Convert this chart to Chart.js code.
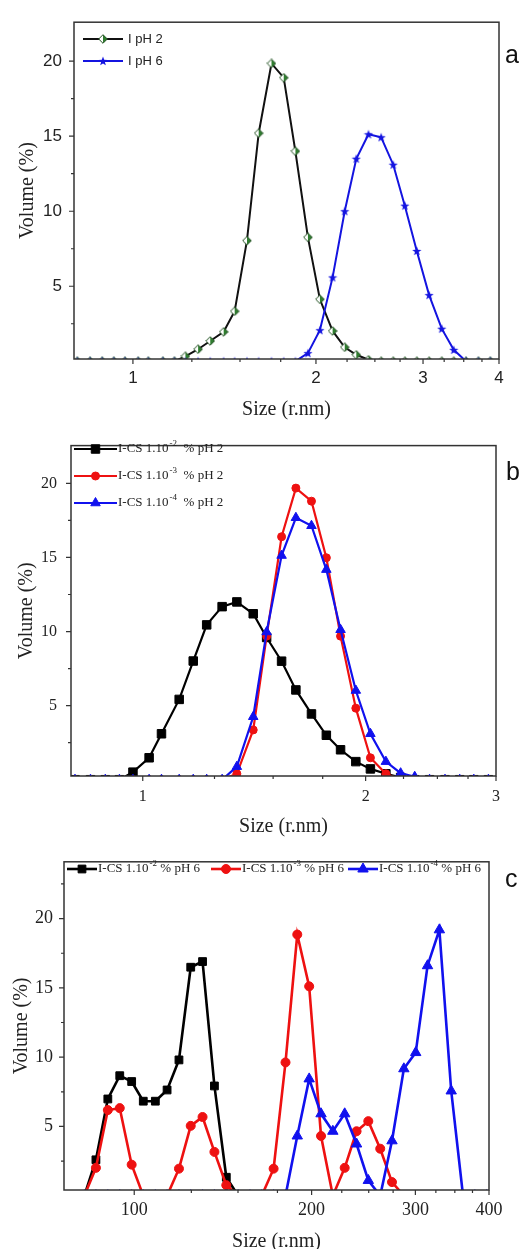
<!DOCTYPE html>
<html>
<head>
<meta charset="utf-8">
<title>Size distributions</title>
<script src="https://cdn.jsdelivr.net/npm/chart.js@4.4.1/dist/chart.umd.min.js"></script>
<style>
  body { margin: 0; background: #fff; }
  canvas { position: absolute; left: 0; }
</style>
</head>
<body>
<canvas id="chartA" width="524" height="422" style="top:0"></canvas>
<canvas id="chartB" width="524" height="418" style="top:422px"></canvas>
<canvas id="chartC" width="524" height="409" style="top:840px"></canvas>
<script>
var sizesAB = [0.81,0.85,0.89,0.93,0.97,1.02,1.06,1.12,1.17,1.22,1.28,1.34,1.41,1.47,1.54,1.61,1.69,1.77,
  1.85,1.94,2.03,2.13,2.23,2.33,2.44,2.56,2.68,2.80,2.93,3.07,3.22,3.37,3.53,3.70,3.87];
// panel a
var volA_pH2 = [0,0,0,0,0,0,0,0,0, 0.33,0.80,1.35,1.96,3.33,8.04,15.2,19.85,18.9,14.0,8.26,4.13,2.02,0.93,0.43,0.1,
  0,0,0,0,0,0,0,0,0,0];
var volA_pH6 = [0,0,0,0,0,0,0,0,0,0,0,0,0,0,0,0,0,0,0, 0.54,2.07,5.59,10.0,13.5,15.13,14.93,13.1,10.37,7.35,4.41,2.17,0.76,
  0,0,0];
// panel b
var volB_2 = [0,0,0,0, 0.51,1.48,3.10,5.42,8.01,10.45,11.68,12.0,11.2,9.6,8.0,6.06,4.44,3.0,2.02,1.22,0.73,0.40,0.15,
  0,0,0,0,0,0,0,0,0,0,0,0];
var volB_3 = [0,0,0,0,0,0,0,0,0,0,0, 0.40,3.36,9.69,16.4,19.68,18.8,14.98,9.69,4.83,1.48,0.40,
  0,0,0,0,0,0,0,0,0,0,0,0,0];
var volB_4 = [0,0,0,0,0,0,0,0,0,0,0, 0.88,4.25,9.97,15.13,17.68,17.14,14.18,10.12,6.02,3.10,1.22,0.44,0.2,
  0,0,0,0,0,0,0,0,0,0,0];
// panel c
var sizesC = [82.3,86.1,90.2,94.5,99.0,103.6,108.6,113.7,119.1,124.7,130.6,136.8,143.3,150.1,157.2,164.6,172.4,
  180.6,189.1,198.1,207.5,217.3,227.6,238.4,249.6,261.5,273.8,286.8,300.4,314.6,329.5,345.1,361.4,378.5,396.4];
var volC_2 = [0,2.59,6.98,8.66,8.24,6.82,6.82,7.63,9.80,16.49,16.90,7.92,1.33,
  0,0,0,0,0,0,0,0,0,0,0,0,0,0,0,0,0,0,0,0,0,0];
var volC_3 = [0,2.01,6.18,6.32,2.24,0,0,0,1.95,5.04,5.68,3.16,0.76,0,0,0,1.95,9.62,18.85,15.11,4.31,0,2.01,4.65,5.38,3.39,0.98,
  0,0,0,0,0,0,0,0];
var volC_4 = [0,0,0,0,0,0,0,0,0,0,0,0,0,0,0,0,0,0, 4.31,8.43,5.91,4.65,5.91,3.73,1.10,0,3.96,9.16,10.33,16.60,19.19,7.56,
  0,0,0];

// tick values
var xTicksA = [1,2,3,4];
var xMinorA = [1.25,1.5,1.75,2.25,2.5,2.75,3.25,3.5,3.75];
var xTicksB = [1,2,3];
var xMinorB = [1.25,1.5,1.75,2.25,2.5,2.75];
var xTicksC = [100,200,300,400];
var xMinorC = [125,150,175,225,250,275,325,350,375];
var yTicks = [5,10,15,20];
var yMinor = [2.5,7.5,12.5,17.5];
var yMinorC = [2.5,7.5,12.5,17.5,22.5];

var SANS = '"Liberation Sans", Arial, sans-serif';
var SERIF = '"Liberation Serif", "Times New Roman", serif';

function diamondMark() {
  var c = document.createElement('canvas');
  c.width = 10; c.height = 10;
  var g = c.getContext('2d');
  g.beginPath();
  g.moveTo(5, 0.7); g.lineTo(9.3, 5); g.lineTo(5, 9.3); g.lineTo(0.7, 5); g.closePath();
  g.fillStyle = '#fff'; g.fill();
  g.save(); g.clip(); g.fillStyle = '#2f7d2f'; g.fillRect(5, 0, 5, 10); g.restore();
  g.strokeStyle = '#1f4f1f'; g.lineWidth = 1; g.stroke();
  return c;
}

function starMark(color) {
  var c = document.createElement('canvas');
  c.width = 10; c.height = 10;
  var g = c.getContext('2d');
  g.beginPath();
  for (var i = 0; i < 10; i++) {
    var r = i % 2 ? 2 : 4.8;
    var a = -Math.PI / 2 + i * Math.PI / 5;
    g.lineTo(5 + r * Math.cos(a), 5.4 + r * Math.sin(a));
  }
  g.closePath();
  g.fillStyle = color; g.fill();
  return c;
}

// frame, tick marks, in-plot legend and panel letter
var framePlugin = {
  id: 'frame',
  afterDraw: function(chart, args, o) {
    var ctx = chart.ctx, a = chart.chartArea, x = chart.scales.x, y = chart.scales.y;
    ctx.save();
    ctx.strokeStyle = '#333';
    ctx.lineWidth = 1.5;
    ctx.strokeRect(a.left, a.top, a.right - a.left, a.bottom - a.top);
    ctx.lineWidth = 1.2;
    ctx.beginPath();
    o.xMajor.forEach(function(v) { var p = x.getPixelForValue(v); ctx.moveTo(p, a.bottom); ctx.lineTo(p, a.bottom + 5); });
    o.xMinor.forEach(function(v) { var p = x.getPixelForValue(v); ctx.moveTo(p, a.bottom); ctx.lineTo(p, a.bottom + 3); });
    o.yMajor.forEach(function(v) { var p = y.getPixelForValue(v); ctx.moveTo(a.left, p); ctx.lineTo(a.left - 5, p); });
    o.yMinor.forEach(function(v) { var p = y.getPixelForValue(v); ctx.moveTo(a.left, p); ctx.lineTo(a.left - 3, p); });
    ctx.stroke();

    // legend
    chart.data.datasets.forEach(function(ds, i) {
      var pos = o.legend.at[i], lx = pos[0], ly = pos[1], len = o.legend.len;
      ctx.strokeStyle = ds.borderColor;
      ctx.lineWidth = ds.borderWidth;
      ctx.beginPath(); ctx.moveTo(lx, ly); ctx.lineTo(lx + len, ly); ctx.stroke();
      ctx.fillStyle = ds.pointBackgroundColor;
      ctx.strokeStyle = ds.pointBorderColor;
      ctx.lineWidth = 1;
      Chart.helpers.drawPoint(ctx, {pointStyle: ds.pointStyle, rotation: 0, radius: ds.pointRadius, borderWidth: 1}, lx + len / 2, ly);
      var tx = lx + len + o.legend.gap;
      var parts = ds.legendParts;
      ctx.fillStyle = '#222';
      ctx.textBaseline = 'middle';
      ctx.textAlign = 'left';
      ctx.font = o.legend.size + 'px ' + o.legend.family;
      ctx.fillText(parts[0], tx, ly);
      tx += ctx.measureText(parts[0]).width;
      if (parts.length > 1) {
        ctx.font = Math.round(o.legend.size * 0.7) + 'px ' + o.legend.family;
        ctx.fillText(parts[1], tx + 1, ly - 5);
        tx += ctx.measureText(parts[1]).width + 1;
        ctx.font = o.legend.size + 'px ' + o.legend.family;
        ctx.fillText(parts[2], tx, ly);
      }
    });

    // panel letter
    ctx.fillStyle = '#111';
    ctx.textBaseline = 'alphabetic';
    ctx.font = '25px ' + SANS;
    ctx.fillText(o.tag[0], o.tag[1], o.tag[2]);
    ctx.restore();
  }
};

function makeChart(id, c) {
  var datasets = c.series.map(function(s) {
    return {
      label: s.parts.join(''),
      legendParts: s.parts,
      data: c.sizes.map(function(v, i) { return {x: v, y: s.values[i]}; }),
      borderColor: s.color,
      borderWidth: c.lineWidth,
      pointStyle: s.point,
      pointRadius: s.radius,
      pointBackgroundColor: s.fill,
      pointBorderColor: s.color,
      pointBorderWidth: 1,
      tension: 0,
      clip: 0,
      order: s.order
    };
  });
  return new Chart(document.getElementById(id), {
    type: 'line',
    data: { datasets: datasets },
    options: {
      responsive: false,
      animation: false,
      events: [],
      layout: { padding: { top: c.top, right: c.right, left: 0, bottom: 0 } },
      plugins: {
        legend: { display: false },
        tooltip: { enabled: false },
        frame: { xMajor: c.xTicks, xMinor: c.xMinor, yMajor: yTicks, yMinor: c.yMinor, legend: c.legend, tag: c.tag }
      },
      scales: {
        x: {
          type: 'logarithmic', min: c.xMin, max: c.xMax,
          afterBuildTicks: function(s) { s.ticks = c.xTicks.map(function(v) { return {value: v}; }); },
          afterFit: function(s) { s.height = c.xHeight; },
          grid: { display: false, drawTicks: false },
          border: { display: false },
          ticks: { callback: function(v) { return String(v); }, autoSkip: false, maxRotation: 0,
            padding: c.xPad, color: '#222', font: { family: c.tickFamily, size: c.tickSize } },
          title: { display: true, text: 'Size (r.nm)', color: '#222',
            font: { family: SERIF, size: 20, lineHeight: '20px' }, padding: { top: 0, bottom: c.xTitlePad } }
        },
        y: {
          min: c.yMin, max: c.yMax,
          afterBuildTicks: function(s) { s.ticks = yTicks.map(function(v) { return {value: v}; }); },
          afterFit: function(s) { s.width = c.left; },
          grid: { display: false, drawTicks: false },
          border: { display: false },
          ticks: { callback: function(v) { return String(v); }, padding: c.yPad, color: '#222',
            font: { family: c.tickFamily, size: c.tickSize } },
          title: { display: true, text: 'Volume (%)', color: '#222',
            font: { family: SERIF, size: 20, lineHeight: '20px' }, padding: { top: c.yTitlePad, bottom: 0 } }
        }
      }
    },
    plugins: [framePlugin]
  });
}

makeChart('chartA', {
  sizes: sizesAB, xMin: 0.8, xMax: 4, yMin: 0.15, yMax: 22.6,
  xTicks: xTicksA, xMinor: xMinorA, yMinor: yMinor,
  top: 15, right: 25, left: 74, xHeight: 63,
  xPad: 9, yPad: 12, xTitlePad: 2, yTitlePad: 18,
  tickFamily: SANS, tickSize: 17, lineWidth: 2,
  legend: { at: [[83, 39], [83, 61]], len: 40, gap: 5, size: 13, family: SANS },
  tag: ['a', 505, 63],
  series: [
    { parts: ['I pH 2'], values: volA_pH2, color: '#111', fill: '#2f7d2f', point: diamondMark(), radius: 5, order: 1 },
    { parts: ['I pH 6'], values: volA_pH6, color: '#1414e0', fill: '#1414e0', point: starMark('#1414e0'), radius: 5, order: 0 }
  ]
});

makeChart('chartB', {
  sizes: sizesAB, xMin: 0.8, xMax: 3, yMin: 0.25, yMax: 22.55,
  xTicks: xTicksB, xMinor: xMinorB, yMinor: yMinor,
  top: 10, right: 28, left: 71, xHeight: 64,
  xPad: 11, yPad: 14, xTitlePad: 3, yTitlePad: 17,
  tickFamily: SERIF, tickSize: 16, lineWidth: 2.2,
  legend: { at: [[74, 27], [74, 54], [74, 81]], len: 43, gap: 1, size: 13, family: SERIF },
  tag: ['b', 506, 58],
  series: [
    { parts: ['I-CS 1.10', '-2', '  % pH 2'], values: volB_2, color: '#000', fill: '#000', point: 'rect', radius: 6, order: 2 },
    { parts: ['I-CS 1.10', '-3', '  % pH 2'], values: volB_3, color: '#ee1111', fill: '#ee1111', point: 'circle', radius: 4, order: 1 },
    { parts: ['I-CS 1.10', '-4', '  % pH 2'], values: volB_4, color: '#1111ee', fill: '#1111ee', point: 'triangle', radius: 5.5, order: 0 }
  ]
});

makeChart('chartC', {
  sizes: sizesC, xMin: 76, xMax: 400, yMin: 0.41, yMax: 24.1,
  xTicks: xTicksC, xMinor: xMinorC, yMinor: yMinorC,
  top: 5, right: 35, left: 64, xHeight: 59,
  xPad: 9, yPad: 11, xTitlePad: -3, yTitlePad: 12,
  tickFamily: SERIF, tickSize: 18, lineWidth: 2.6,
  legend: { at: [[67, 29], [211, 29], [348, 29]], len: 30, gap: 1, size: 13, family: SERIF },
  tag: ['c', 505, 47],
  series: [
    { parts: ['I-CS 1.10', '-2', ' % pH 6'], values: volC_2, color: '#000', fill: '#000', point: 'rect', radius: 5.5, order: 2 },
    { parts: ['I-CS 1.10', '-3', ' % pH 6'], values: volC_3, color: '#ee1111', fill: '#ee1111', point: 'circle', radius: 4.5, order: 1 },
    { parts: ['I-CS 1.10', '-4', ' % pH 6'], values: volC_4, color: '#1111ee', fill: '#1111ee', point: 'triangle', radius: 6, order: 0 }
  ]
});
</script>
</body>
</html>
